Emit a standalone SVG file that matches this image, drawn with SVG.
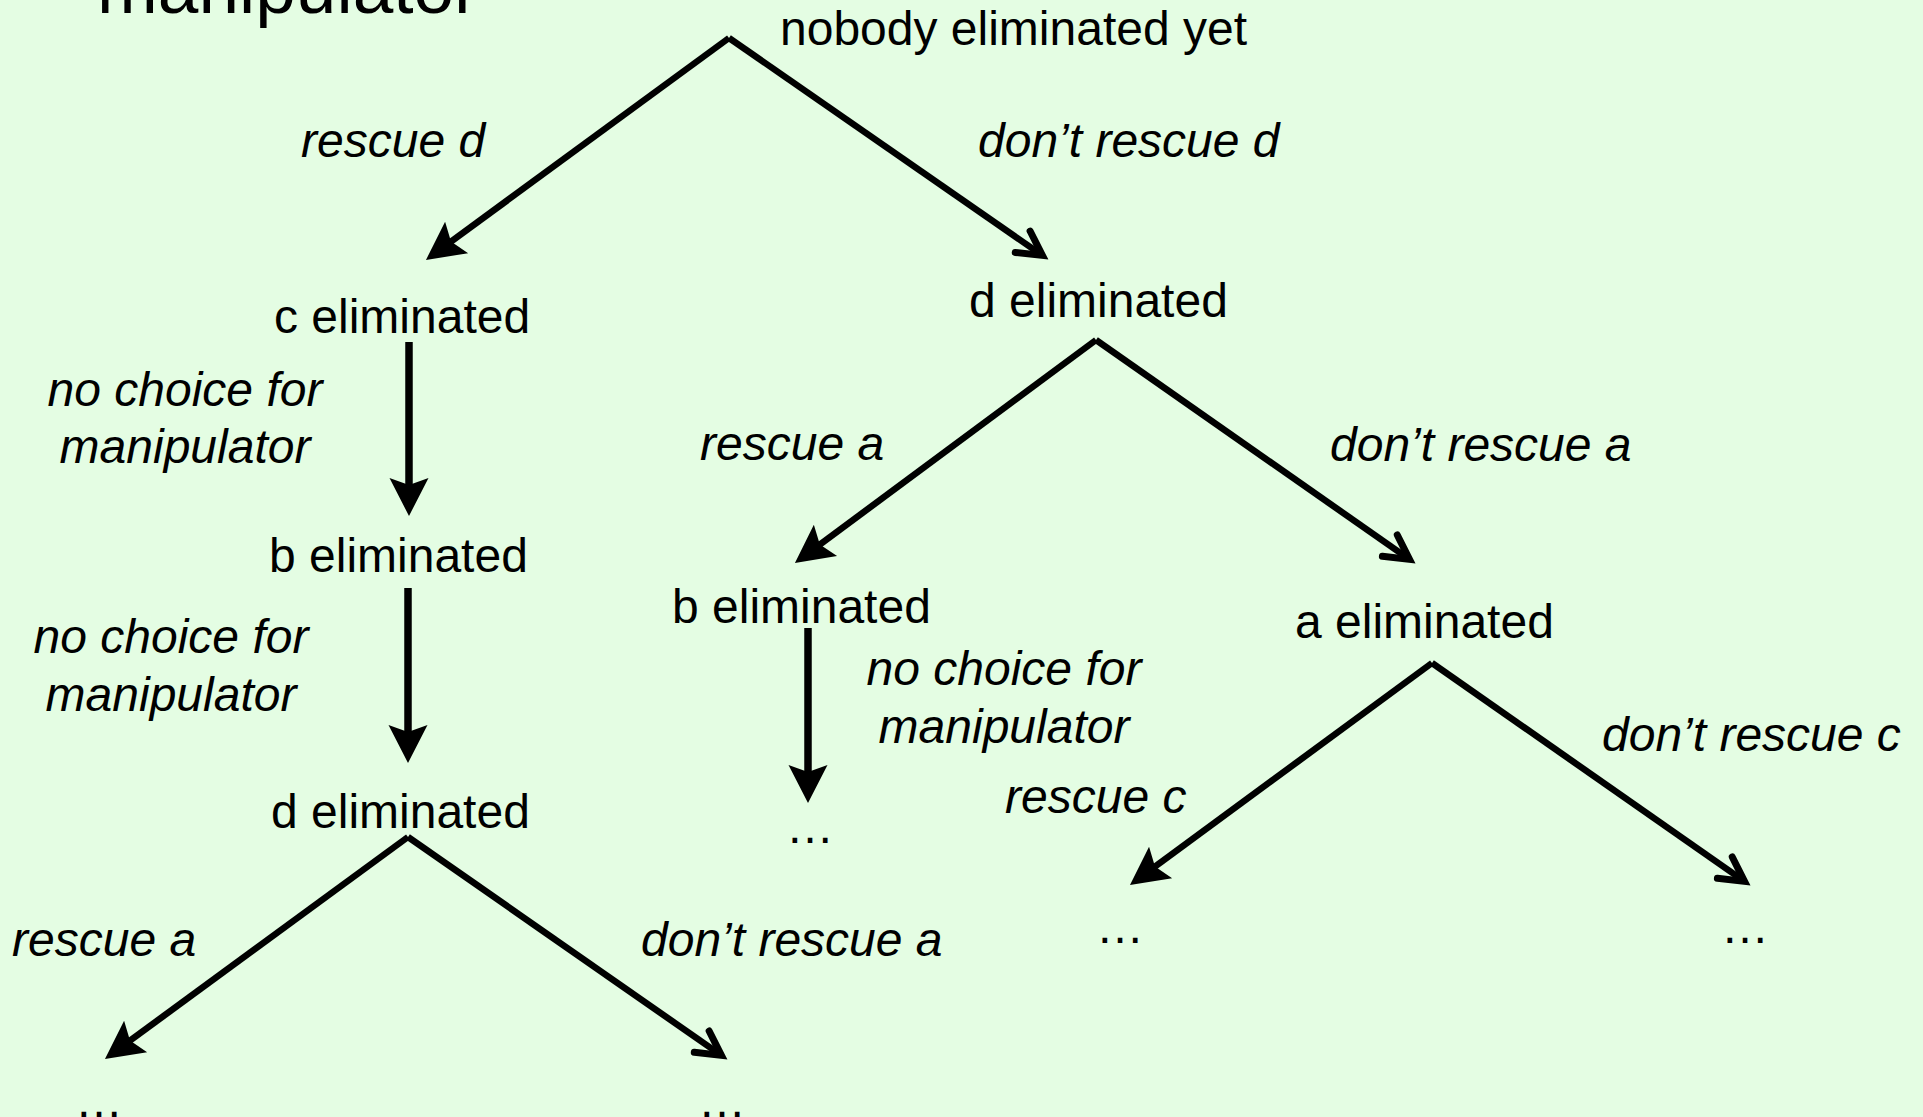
<svg xmlns="http://www.w3.org/2000/svg" width="1923" height="1117" viewBox="0 0 1923 1117">
  <style>
    text { font-family: "Liberation Sans", Arial, sans-serif; fill: #000; }
    .node { font-size: 48px; }
    .lbl { font-size: 48px; font-style: italic; }
    .mid { text-anchor: middle; }
    .title { font-size: 73px; }
    .edge { stroke: #000; stroke-width: 6.5; fill: none; }
    .edge.v { stroke-width: 7.5; }
    .stealth { marker-end: url(#stealth); }
    .vee { marker-end: url(#vee); }
  </style>
  <defs>
    <marker id="stealth" markerUnits="userSpaceOnUse" orient="auto" refX="0" refY="0" markerWidth="60" markerHeight="60" viewBox="-30 -30 60 60" overflow="visible">
      <path d="M20,0 L-18,-19.5 L-11,0 L-18,19.5 Z" fill="#000"/>
    </marker>
    <marker id="vee" markerUnits="userSpaceOnUse" orient="auto" refX="0" refY="0" markerWidth="60" markerHeight="60" viewBox="-40 -30 60 60" overflow="visible">
      <path d="M-24,-13 L0,0 L-24,13" fill="none" stroke="#000" stroke-width="7" stroke-linecap="round" stroke-linejoin="miter" stroke-miterlimit="10"/>
    </marker>
  </defs>

  <rect x="0" y="0" width="1923" height="1117" fill="#e4fde3"/>

  <text class="title" x="97" y="13">manipulator</text>

  <g id="connectors">
    <line class="edge stealth" x1="729" y1="38" x2="442.1" y2="248.1"/>
    <line class="edge vee" x1="729" y1="38" x2="1042.4" y2="255.4"/>
    <line class="edge v stealth" x1="409" y1="342" x2="409" y2="496"/>
    <line class="edge v stealth" x1="408" y1="588" x2="408" y2="743"/>
    <line class="edge stealth" x1="408" y1="837" x2="121.1" y2="1047.1"/>
    <line class="edge vee" x1="408" y1="837" x2="721.4" y2="1055.4"/>
    <line class="edge stealth" x1="1096" y1="340" x2="811" y2="551.1"/>
    <line class="edge vee" x1="1096" y1="340" x2="1409.5" y2="559.4"/>
    <line class="edge v stealth" x1="808" y1="628" x2="808" y2="783"/>
    <line class="edge stealth" x1="1432" y1="663" x2="1146.1" y2="873.1"/>
    <line class="edge vee" x1="1432" y1="663" x2="1744.5" y2="881.4"/>
  </g>

  <g id="edge-labels">
    <text class="lbl" x="301" y="157">rescue d</text>
    <text class="lbl" x="978" y="157">don’t rescue d</text>
    <text class="lbl mid" x="185" y="406">no choice for</text>
    <text class="lbl mid" x="185" y="463">manipulator</text>
    <text class="lbl mid" x="171" y="653">no choice for</text>
    <text class="lbl mid" x="171" y="711">manipulator</text>
    <text class="lbl" x="12" y="956">rescue a</text>
    <text class="lbl" x="641" y="956">don’t rescue a</text>
    <text class="lbl" x="700" y="460">rescue a</text>
    <text class="lbl" x="1330" y="461">don’t rescue a</text>
    <text class="lbl mid" x="1004" y="685">no choice for</text>
    <text class="lbl mid" x="1004" y="743">manipulator</text>
    <text class="lbl" x="1005" y="813">rescue c</text>
    <text class="lbl" x="1602" y="751">don’t rescue c</text>
  </g>

  <g id="n-root"><text class="node" x="780" y="45">nobody eliminated yet</text></g>
  <g id="n-c-elim"><text class="node" x="274" y="333">c eliminated</text></g>
  <g id="n-d-elim-right"><text class="node" x="969" y="317">d eliminated</text></g>
  <g id="n-b-elim-left"><text class="node" x="269" y="572">b eliminated</text></g>
  <g id="n-d-elim-left"><text class="node" x="271" y="828">d eliminated</text></g>
  <g id="n-b-elim-mid"><text class="node" x="672" y="623">b eliminated</text></g>
  <g id="n-a-elim"><text class="node" x="1295" y="638">a eliminated</text></g>
  <g id="n-dots-mid"><text class="node" x="786" y="843">…</text></g>
  <g id="n-dots-c1"><text class="node" x="1096" y="943">…</text></g>
  <g id="n-dots-c2"><text class="node" x="1721" y="943">…</text></g>
  <g id="n-dots-a1"><text class="node" x="75" y="1117">…</text></g>
  <g id="n-dots-a2"><text class="node" x="698" y="1117">…</text></g>
</svg>
